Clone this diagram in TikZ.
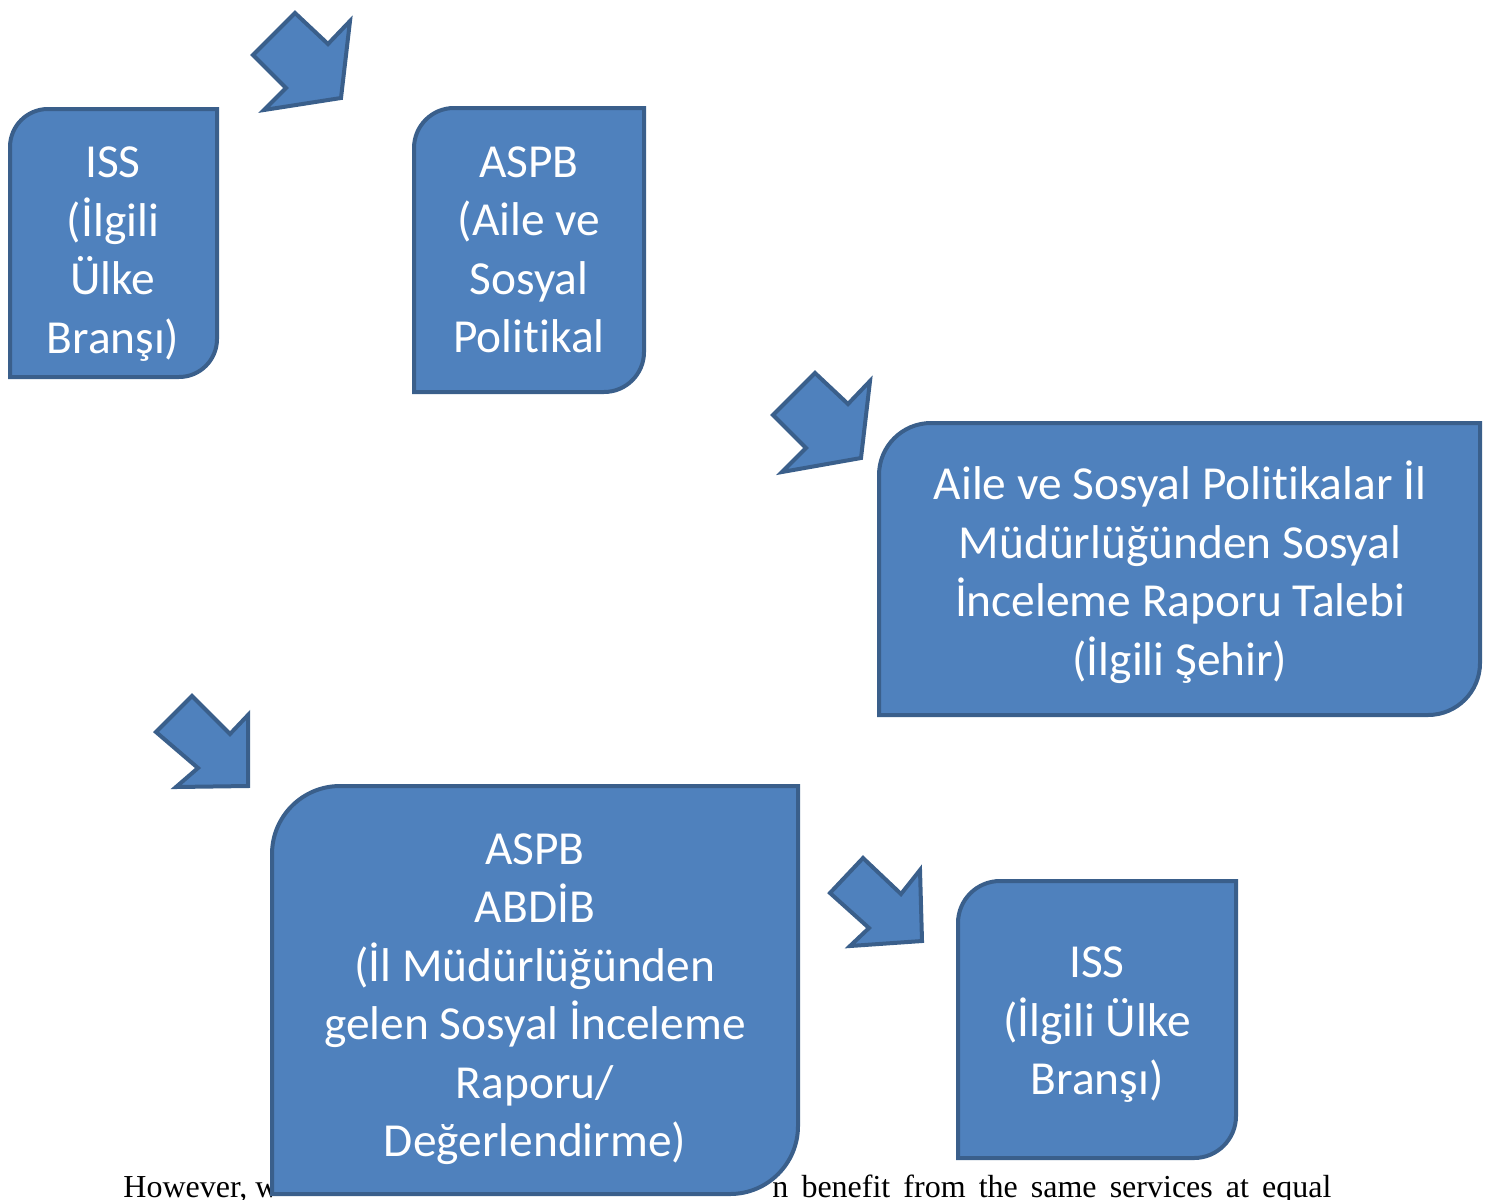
\documentclass[tikz,border=0pt]{standalone}
\usepackage{fontspec}
\setmainfont{Liberation Serif}
\newfontfamily\calfont[Ligatures=NoCommon]{Carlito}
\definecolor{boxfill}{HTML}{4F81BD}
\definecolor{boxline}{HTML}{3A5F8B}
\tikzset{
  boxst/.style={fill=boxfill,draw=boxline,line width=2pt},
  btext/.style={text=white,font=\calfont\fontsize{23.7}{29.25}\selectfont,align=center,inner sep=0pt},
  arrowst/.style={fill=boxfill,draw=boxline,line width=2pt,line join=miter},
  bodytext/.style={font=\fontsize{16}{18}\selectfont,inner sep=0pt,text=black}
}
% name, left, top, right, bottom, radius
\newcommand\rbox[6]{%
  \draw[boxst] (#2+2,#5-2) -- (#2+2,#3+2+#6) arc[start angle=180,end angle=270,radius=#6]
    -- (#4-2,#3+2) -- (#4-2,#5-2-#6) arc[start angle=0,end angle=90,radius=#6] -- cycle;
  \coordinate (#1) at ({(#2+#4)/2},{(#3+#5)/2});}
\begin{document}
\begin{tikzpicture}[x=0.5pt,y=-0.5pt]
\useasboundingbox (0,0) rectangle (1491,1199);
\clip (0,0) rectangle (1491,1199);
% paragraph text behind the boxes
\node[bodytext,anchor=base west] (p1) at (123,1197) {However,\hspace{4pt}w};
\node[bodytext,anchor=base west] (p2) at (772,1197) {\makebox[279.5pt][s]{n benefit from the same services at equal}};
% boxes
\rbox{b1}{8}{107}{219}{379}{38}
\rbox{b2}{412}{106}{646}{394}{40}
\rbox{b3}{877}{421}{1482}{717}{52}
\rbox{b4}{270}{784}{800}{1196}{68}
\rbox{b5}{956}{879}{1238}{1160}{42}
% texts
\node[btext] (t1) at (113,254) {ISS\\(İlgili\\Ülke\\Branşı)};
\node[btext] (t2) at (529,250) {ASPB\\(Aile ve\\Sosyal\\Politikal};
\node[btext] (t3) at (1180,572) {Aile ve Sosyal Politikalar İl\\Müdürlüğünden Sosyal\\İnceleme Raporu Talebi\\(İlgili Şehir)};
\node[btext] (t4) at (535,999) {ASPB\\ABDİB\\(İl Müdürlüğünden\\gelen Sosyal İnceleme\\Raporu/\\Değerlendirme)};
\node[btext] (t5) at (1097,1025) {ISS\\(İlgili Ülke\\Branşı)};
% block arrows
\draw[arrowst] (295,13) -- (328,44) -- (350,21) -- (341,98) -- (264,110) -- (286,88) -- (253,55) -- cycle;
\draw[arrowst] (815,373) -- (848,404) -- (870,381) -- (861,458) -- (782,472) -- (806,448) -- (773,415) -- cycle;
\draw[arrowst] (192,696) -- (230,734) -- (248,715) -- (248,786) -- (176,787) -- (198,768) -- (156,732) -- cycle;
\draw[arrowst] (863,858) -- (901,894) -- (920,870) -- (922,941) -- (850,946) -- (869,928) -- (830,893) -- cycle;
\end{tikzpicture}
\end{document}
